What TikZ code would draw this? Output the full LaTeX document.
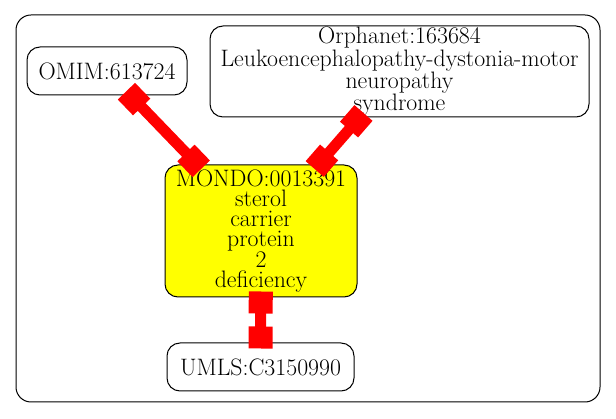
\documentclass[tikz,border=0pt]{standalone}
\usepackage{tikz}
\usetikzlibrary{arrows.meta}
\definecolor{nodeyellow}{RGB}{255,255,0}
\definecolor{linkred}{RGB}{255,0,0}

\begin{document}
\begin{tikzpicture}[x=1pt, y=-1pt, term/.style={draw, rounded corners=13pt, line width=1pt, align=center, inner sep=0pt, font=\fontsize{23.8}{19.8}\selectfont}, root/.style={term, fill=nodeyellow}, link/.style={{Square[length=22pt, width=24pt]}-{Square[length=22pt, width=24pt]}, draw=linkred, line width=11pt, shorten <=-6pt, shorten >=-6pt}]
            \useasboundingbox (0,0) rectangle (616,419);
            % cluster
            \draw[line width=1pt, rounded corners=15pt] (16,15) rectangle (600,402);
            % nodes
            \node[term, minimum width=160pt, minimum height=48pt] (omim) at (107,71) {OMIM:613724};
            \node[term, minimum width=379pt, minimum height=91pt] (orpha) at (399.5,71.5) {Orphanet:163684\\Leukoencephalopathy-dystonia-motor\\neuropathy\\syndrome};
            \node[root, minimum width=192pt, minimum height=132pt] (mondo) at (261,231) {MONDO:0013391\\sterol\\carrier\\protein\\2\\deficiency};
            \node[term, minimum width=187pt, minimum height=48pt] (umls) at (260.5,367) {UMLS:C3150990};
            % edges
            \draw [link] (omim) -- (mondo);
            \draw [link] (orpha) -- (mondo);
            \draw [link] (mondo) -- (umls);
        \end{tikzpicture}
\end{document}
